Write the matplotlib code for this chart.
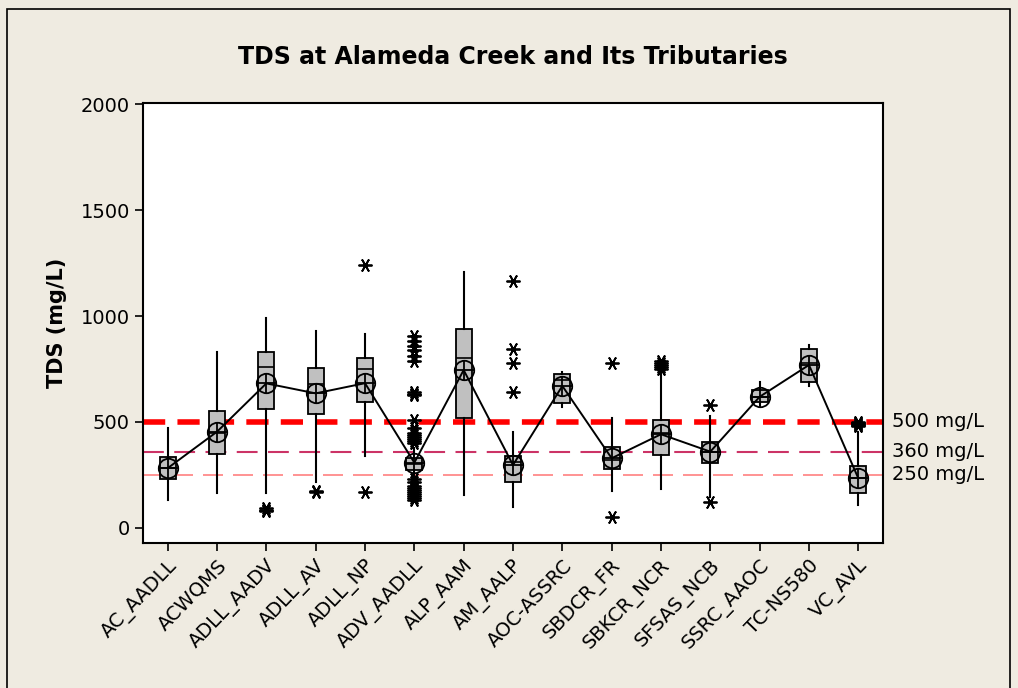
import matplotlib.pyplot as plt
from matplotlib.patches import Rectangle

# site names
sites = ["AC_AADLL", "ACWQMS", "ADLL_AADV", "ADLL_AV", "ADLL_NP", "ADV_AADLL",
         "ALP_AAM", "AM_AALP", "AOC-ASSRC", "SBDCR_FR", "SBKCR_NCR", "SFSAS_NCB",
         "SSRC_AAOC", "TC-NS580", "VC_AVL"]

# box statistics (mg/L)
q1 = [232, 349, 560, 536, 596, 274, 520, 218, 588, 277, 344, 305, 596, 687, 167]
med = [285, 450, 761, 679, 749, 300, 803, 310, 700, 320, 447, 360, 620, 777, 234]
q3 = [336, 553, 832, 753, 803, 329, 937, 340, 726, 384, 509, 407, 651, 844, 292]
whis_lo = [132, 164, 164, 218, 340, 234, 156, 101, 572, 176, 182, 148, 580, 670, 108]
whis_hi = [470, 830, 989, 931, 914, 376, 1206, 451, 737, 517, 769, 528, 687, 863, 454]
means = [282, 454, 682, 635, 683, 308, 745, 297, 670, 329, 442, 360, 619, 769, 234]

outliers = [
    [],
    [],
    [95, 85, 80],
    [175, 170],
    [1240, 171],
    [905, 880, 860, 840, 810, 790, 640, 630, 625, 510, 470, 450, 440, 430, 420,
     410, 400, 230, 215, 200, 190, 180, 170, 160, 150, 140, 130],
    [],
    [1167, 844, 777, 643],
    [],
    [777, 53],
    [790, 780, 770, 760, 750],
    [580, 124],
    [],
    [],
    [500, 495, 490, 485, 480],
]

# reference levels
ref_vals = [500, 360, 250]
ref_labels = ["500 mg/L", "360 mg/L", "250 mg/L"]

bg = "#EFEBE1"
plt.rcParams['font.family'] = ['DejaVu Sans']

fig = plt.figure(figsize=(10.18, 6.88), dpi=100, facecolor=bg)
fig.patches.append(Rectangle((7 / 1018, -0.05), 1003 / 1018, 1.05 - 9 / 688,
                             transform=fig.transFigure, fill=False,
                             edgecolor="black", linewidth=1.2))
ax = fig.add_axes([143 / 1018, 1 - 543 / 688, 740 / 1018, 440 / 688])

pos = list(range(1, len(sites) + 1))

# reference lines
ax.axhline(500, color="#FF0000", lw=4, dashes=(4, 2.2), zorder=1)
ax.axhline(360, color="#CC3366", lw=1.5, dashes=(10, 5), zorder=1)
ax.axhline(250, color="#FF8080", lw=1.2, dashes=(12, 6), zorder=1)
for v, lab in zip(ref_vals, ref_labels):
    ax.text(15.68, v, lab, fontsize=14, va="center", ha="left")

stats = []
for i in range(len(sites)):
    stats.append(dict(q1=q1[i], med=med[i], q3=q3[i], whislo=whis_lo[i],
                      whishi=whis_hi[i], fliers=outliers[i], label=sites[i]))

ax.bxp(stats, positions=pos, widths=0.33, patch_artist=True, showcaps=False,
       boxprops=dict(facecolor="#C0C0C0", edgecolor="black", linewidth=1.3),
       medianprops=dict(color="black", linewidth=1.2),
       whiskerprops=dict(color="black", linewidth=1.5),
       flierprops=dict(marker=(6, 2, 90), markersize=10, markeredgecolor="black",
                       markeredgewidth=1.3, linestyle="none"),
       manage_ticks=False)

# mean connect line and mean symbols
ax.plot(pos, means, color="black", lw=1.4, zorder=4)
ax.plot(pos, means, "o", ms=14, mfc="none", mec="black", mew=1.3, zorder=5)
ax.plot(pos, means, "+", ms=14, mec="black", mew=1.3, zorder=5)

ax.set_xlim(0.5, 15.5)
ax.set_ylim(-71, 2005)
ax.set_yticks([0, 500, 1000, 1500, 2000])
ax.set_xticks(pos)
ax.set_xticklabels(sites, rotation=46, ha="right", rotation_mode="anchor", fontsize=14)
ax.tick_params(axis="y", labelsize=14, direction="out", length=6, width=1.2)
ax.tick_params(axis="x", direction="out", length=6, width=1.2)
for s in ax.spines.values():
    s.set_linewidth(1.5)
ax.set_ylabel("TDS (mg/L)", fontsize=15, fontweight="bold", labelpad=10)
ax.set_title("TDS at Alameda Creek and Its Tributaries", fontsize=17,
             fontweight="bold", pad=28)

fig.savefig("out.png", dpi=100, facecolor=bg)
